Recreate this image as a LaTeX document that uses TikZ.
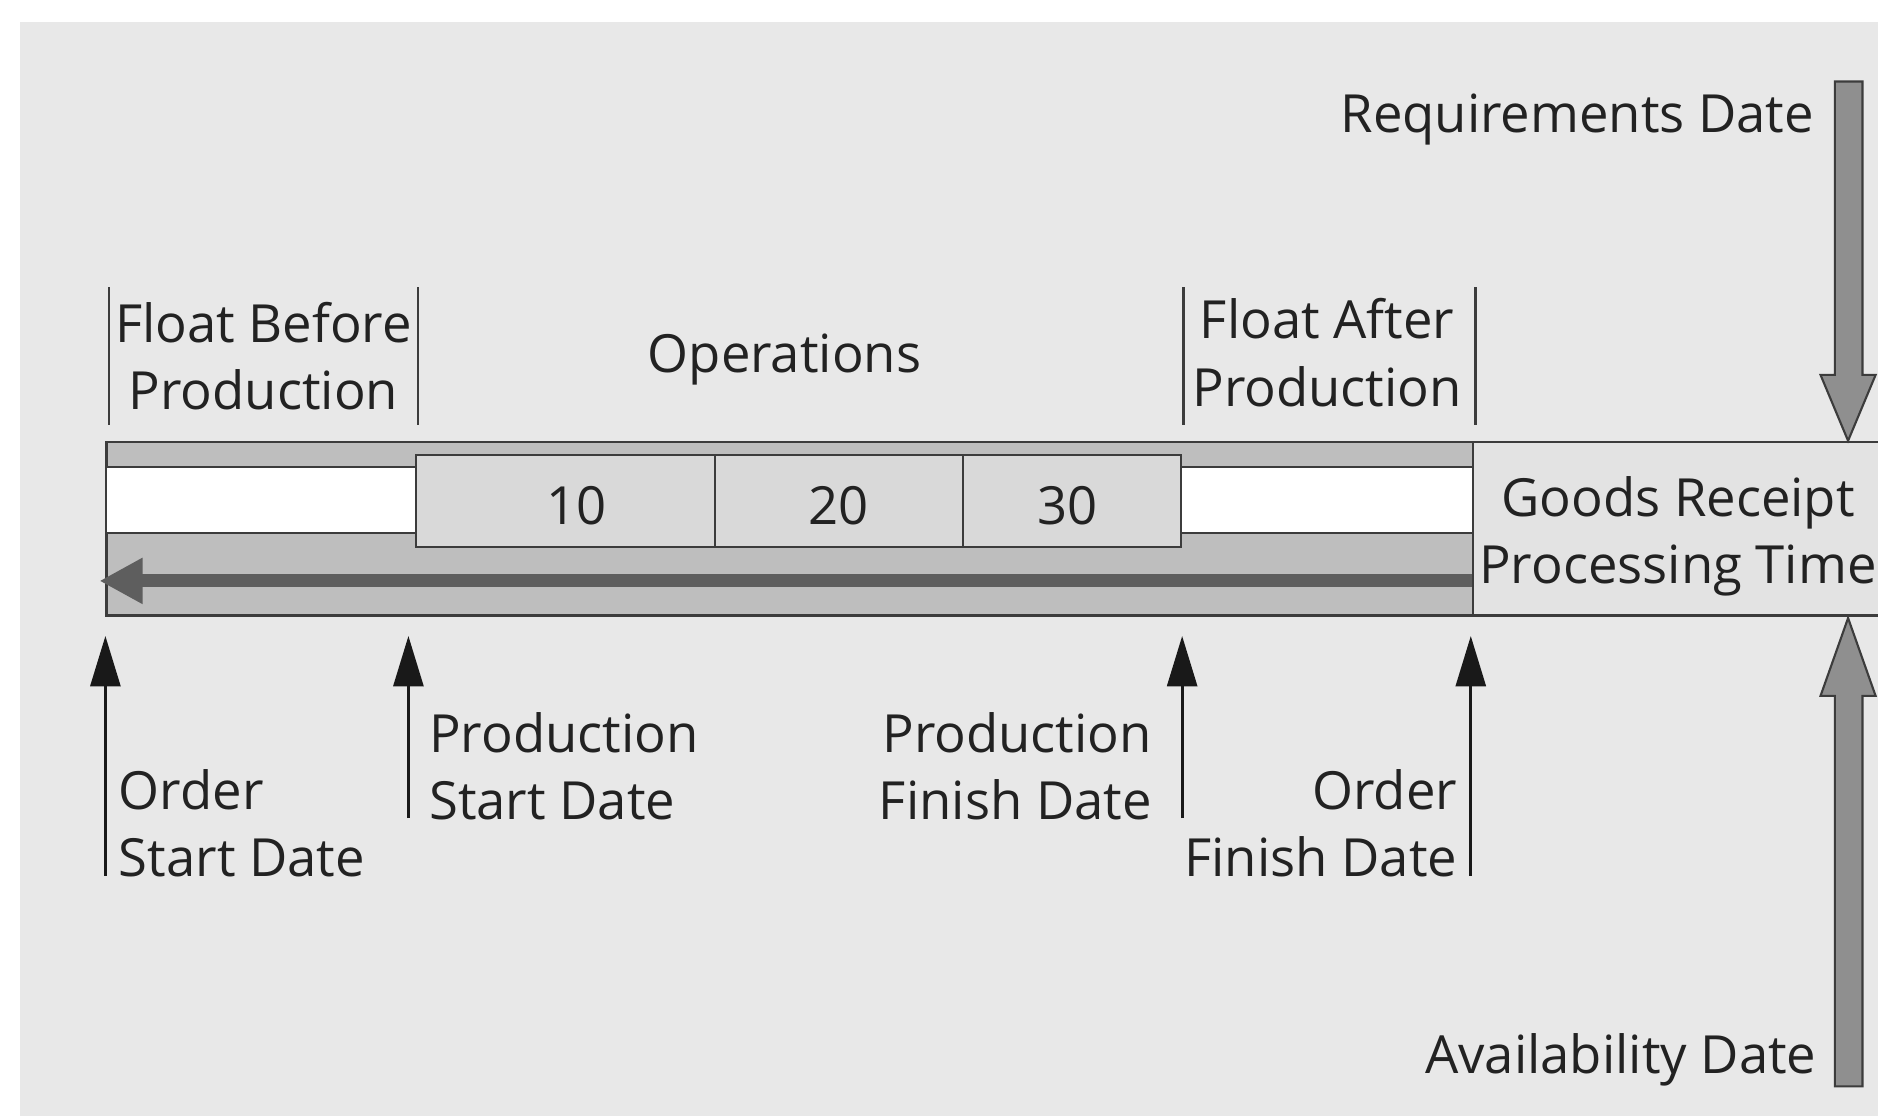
\documentclass[tikz,border=0pt]{standalone}
\usepackage{fontspec}
\setmainfont{Open Sans}
\usetikzlibrary{arrows.meta,fit}
\definecolor{bgc}{HTML}{E8E8E8}
\definecolor{barc}{HTML}{BEBEBE}
\definecolor{opc}{HTML}{D9D9D9}
\definecolor{grc}{HTML}{E3E3E3}
\definecolor{edgec}{HTML}{3C3C3C}
\definecolor{darkarr}{HTML}{5E5E5E}
\definecolor{bigarr}{HTML}{8F8F8F}
\definecolor{txtc}{HTML}{222222}
\begin{document}
\begin{tikzpicture}[x=0.02cm,y=-0.02cm,
  every node/.style={font=\fontsize{25}{31.9}\selectfont, text=txtc, inner sep=0pt},
  box/.style={fit={#1}, inner sep=0pt, draw=edgec, line width=1.1pt},
  tick/.style={draw=edgec, line width=1.2pt},
  uparr/.style={draw=black!90, line width=1.4pt, -{Triangle[length=0.84cm,width=0.5cm]}},
  bigarrow/.style={fill=bigarr, draw=edgec, line width=1pt, line join=miter},
  darkline/.style={draw=darkarr, line width=0.22cm, -{Triangle[length=0.72cm,width=0.72cm]}}
]
\useasboundingbox (0,0) rectangle (1568,931);
\fill[white] (0,0) rectangle (1568,931);
\node[fit={(17,18) (1580,940)}, inner sep=0pt, fill=bgc] (bg) {};

% main bar
\node[box={(89,369) (1230,514)}, fill=barc] (bar) {};
\node[box={(89,390) (347,445)}, fill=white, line width=0.8pt] (fbp) {};
\node[box={(986,390) (1230,445)}, fill=white, line width=0.8pt] (fap) {};
\node[box={(347,380) (597,457)}, fill=opc, line width=0.9pt] (op10) {};
\node[box={(597,380) (804,457)}, fill=opc, line width=0.9pt] (op20) {};
\node[box={(804,380) (986,457)}, fill=opc, line width=0.9pt] (op30) {};
\node[box={(1230,369) (1600,514)}, fill=grc] (gr) {};

% dark backward arrow
\coordinate (dstart) at (1229,485);
\coordinate (dend) at (83,485);
\draw[darkline] (dstart) -- (dend);

% operation numbers
\node[anchor=base] (t10) at (481,438) {10};
\node[anchor=base] (t20) at (700,438) {20};
\node[anchor=base] (t30) at (891,438) {30};

% goods receipt text
\node[align=center, anchor=base] (grt) at (1401,487) {Goods Receipt\\Processing Time};

% ticks
\draw[tick] (91,240) -- (91,355);
\draw[tick] (349,240) -- (349,355);
\draw[tick] (988,240) -- (988,355);
\draw[tick] (1232,240) -- (1232,355);

% top labels
\node[align=center, anchor=base] (fbt) at (220,342) {Float Before\\Production};
\node[anchor=base] (opst) at (655,311) {Operations};
\node[align=center, anchor=base] (fat) at (1108,339) {Float After\\Production};
\node[anchor=base east] (req) at (1515,111) {Requirements Date};

% big arrows
\draw[bigarrow] (1532,68) -- (1555,68) -- (1555,313) -- (1566,313) -- (1543,368) -- (1520,313) -- (1532,313) -- cycle;
\draw[bigarrow] (1532,907) -- (1555,907) -- (1555,581) -- (1566,581) -- (1543,516) -- (1520,581) -- (1532,581) -- cycle;
\node[anchor=base east] (avail) at (1517,896) {Availability Date};

% small date arrows
\coordinate (a1) at (88,731);  \coordinate (a1t) at (88,531);
\coordinate (a2) at (341,683); \coordinate (a2t) at (341,531);
\coordinate (a3) at (987,683); \coordinate (a3t) at (987,531);
\coordinate (a4) at (1228,731); \coordinate (a4t) at (1228,531);
\draw[uparr] (a1) -- (a1t);
\draw[uparr] (a2) -- (a2t);
\draw[uparr] (a3) -- (a3t);
\draw[uparr] (a4) -- (a4t);

\node[align=left, anchor=base west] (osd) at (99,732) {Order\\Start Date};
\node[align=left, anchor=base west] (psd) at (358,684) {Production\\Start Date};
\node[align=right, anchor=base east] (pfd) at (962,684) {Production\\Finish Date};
\node[align=right, anchor=base east] (ofd) at (1217,732) {Order\\Finish Date};
\end{tikzpicture}
\end{document}
